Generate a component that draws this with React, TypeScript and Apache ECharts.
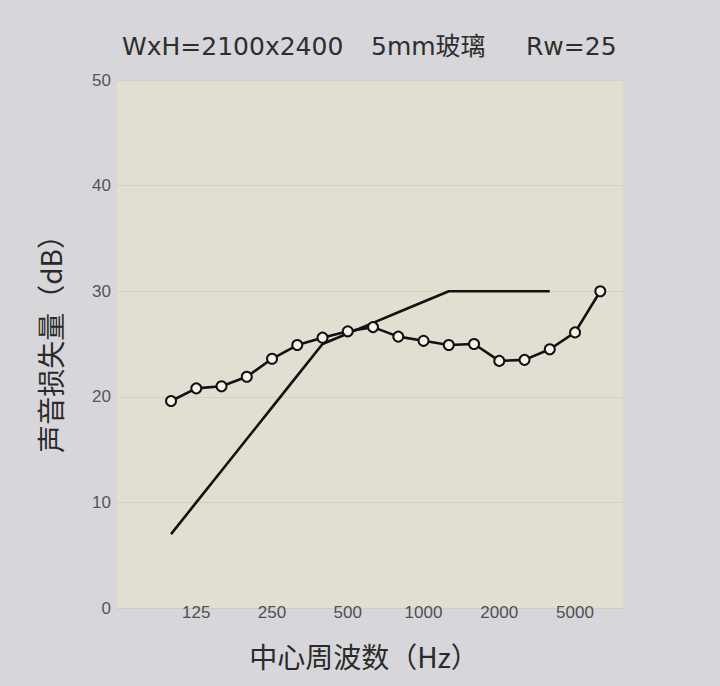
import React, { useEffect, useRef } from "react";
import * as echarts from "echarts";

const freqs = ["100", "125", "160", "200", "250", "315", "400", "500", "630", "800", "1000", "1250", "1600", "2000", "2500", "3150", "4000", "5000"];
const measured = [19.6, 20.8, 21.0, 21.9, 23.6, 24.9, 25.6, 26.2, 26.6, 25.7, 25.3, 24.9, 25.0, 23.4, 23.5, 24.5, 26.1, 30.0];
const reference = [7, 10, 13, 16, 19, 22, 25, 26, 27, 28, 29, 30, 30, 30, 30, 30];
const xTickIndex = [1, 4, 7, 10, 13, 16];
const xTickLabels = ["125", "250", "500", "1000", "2000", "5000"];
const yTicks = [0, 10, 20, 30, 40, 50];

const LATIN = '"Liberation Sans", "Noto Sans CJK SC", sans-serif';
const TITLE = '"DejaVu Sans", "Noto Sans CJK SC", sans-serif';
const CJK = '"Noto Sans CJK SC", "Liberation Sans", sans-serif';

export default function App() {
  const ref = useRef<HTMLDivElement>(null);
  useEffect(() => {
    document.body.style.margin = "0";
    const chart = echarts.init(ref.current!, null, { renderer: "svg" });
    const option = {
      animation: false,
      backgroundColor: "#d7d7db",
      grid: { left: 117, right: 97, top: 80, bottom: 78, show: true, backgroundColor: "#e2ded1", borderWidth: 0 },
      graphic: [
        { type: "text", x: 122, y: 46, style: { text: "WxH=2100x2400", font: `25px ${TITLE}`, fill: "#2e2e2e", verticalAlign: "middle" } },
        { type: "text", x: 371, y: 46, style: { text: "5mm玻璃", font: `25px ${TITLE}`, fill: "#2e2e2e", verticalAlign: "middle" } },
        { type: "text", x: 526, y: 46, style: { text: "Rw=25", font: `25px ${TITLE}`, fill: "#2e2e2e", verticalAlign: "middle" } },
        { type: "text", x: 364, y: 656, style: { text: "中心周波数（Hz）", font: `28px ${CJK}`, fill: "#2a2a2a", align: "center", verticalAlign: "middle" } },
        { type: "text", x: 50, y: 337, rotation: Math.PI / 2, style: { text: "声音损失量（dB）", font: `28px ${CJK}`, fill: "#2a2a2a", align: "center", verticalAlign: "middle" } },
      ],
      xAxis: {
        type: "value",
        min: -2.14,
        max: 17.9,
        axisLine: { show: false },
        axisTick: { show: false },
        splitLine: { show: false },
        axisLabel: {
          customValues: xTickIndex,
          margin: -4,
          fontSize: 17,
          fontFamily: LATIN,
          color: "#4f4f4f",
          formatter: (v: number) => {
            const k = xTickIndex.indexOf(Math.round(v));
            return k >= 0 ? xTickLabels[k] : "";
          },
        },
      },
      yAxis: {
        type: "value",
        min: 0,
        max: 50,
        interval: 10,
        axisLine: { show: false },
        axisTick: { show: false },
        splitLine: { show: true, lineStyle: { color: "rgba(170,160,140,0.22)", width: 1 } },
        axisLabel: {
          customValues: yTicks,
          margin: 6,
          fontSize: 17,
          fontFamily: LATIN,
          color: "#555555",
        },
      },
      series: [
        {
          type: "line",
          data: reference.map((v, i) => [i, v]),
          symbol: "none",
          lineStyle: { color: "#111", width: 2.6 },
          z: 2,
        },
        {
          type: "line",
          data: measured.map((v, i) => [i, v]),
          symbol: "circle",
          symbolSize: 10,
          itemStyle: { color: "#f4f2ea", borderColor: "#111", borderWidth: 2 },
          lineStyle: { color: "#111", width: 2.6 },
          z: 3,
        },
      ],
    };
    chart.setOption(option as any);
    return () => chart.dispose();
  }, []);
  return <div ref={ref} style={{ position: "absolute", left: 0, top: 0, width: 720, height: 686 }} />;
}
